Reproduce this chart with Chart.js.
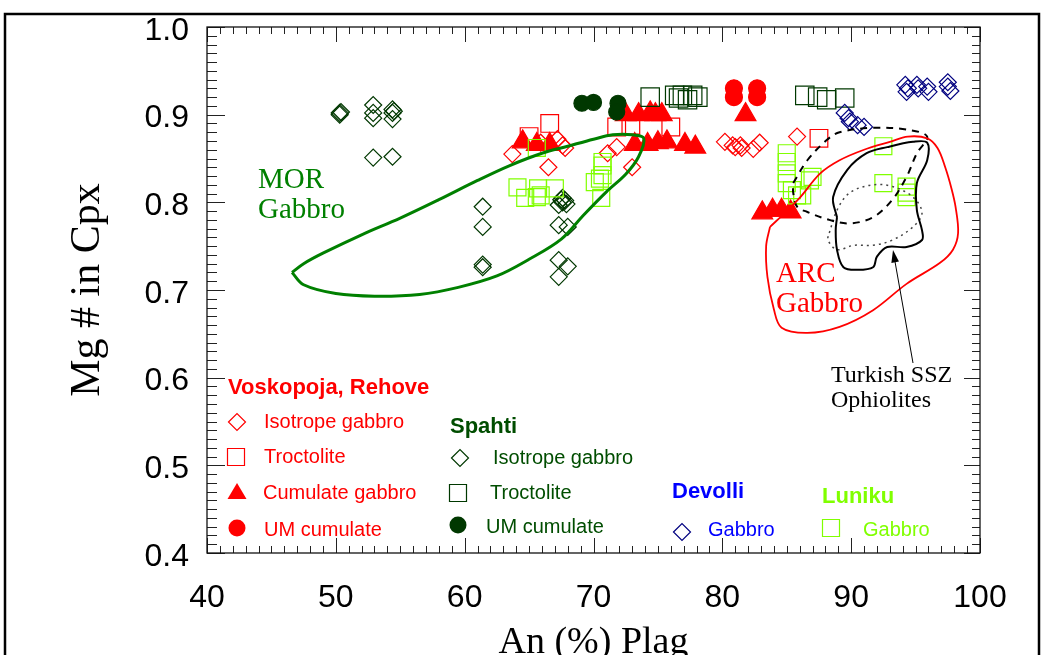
<!DOCTYPE html>
<html>
<head>
<meta charset="utf-8">
<script src="https://cdn.jsdelivr.net/npm/chart.js@4.4.1/dist/chart.umd.min.js"></script>
<style>
  body { margin: 0; background: #fff; }
</style>
</head>
<body>
<canvas id="myChart" width="1041" height="655"></canvas>
<script>
// ---- Voskopoja, Rehove ----
const vrIsoX = [63.7, 65.9, 66.5, 67.2, 67.6, 67.8, 71.1, 71.8, 73.0, 80.2, 80.8, 81.0, 81.4, 81.5, 82.4, 82.9, 85.8];
const vrIsoY = [0.855, 0.868, 0.840, 0.872, 0.865, 0.862, 0.856, 0.863, 0.840, 0.869, 0.865, 0.863, 0.865, 0.862, 0.861, 0.868, 0.875];
const vrTroX = [65.0, 66.6, 71.8, 72.9, 76.0, 87.5];
const vrTroY = [0.875, 0.890, 0.886, 0.888, 0.886, 0.873];
const vrCumX = [64.5, 65.6, 66.6, 72.5, 73.5, 74.4, 74.8, 75.3, 73.2, 74.2, 75.0, 75.7, 77.1, 77.9, 81.8, 83.1, 83.9, 84.6, 85.3];
const vrCumY = [0.869, 0.866, 0.866, 0.900, 0.900, 0.902, 0.900, 0.900, 0.866, 0.866, 0.868, 0.869, 0.866, 0.863, 0.900, 0.788, 0.791, 0.791, 0.789];
const vrUmX = [80.9, 80.9, 82.7, 82.7];
const vrUmY = [0.930, 0.920, 0.930, 0.920];

// ---- Spahti ----
const spIsoX = [50.3, 50.3, 50.4, 52.9, 52.9, 52.9, 54.4, 54.5, 54.4, 54.4, 52.9, 54.4, 61.4, 61.4, 61.4, 61.4, 67.3, 67.6, 67.8, 67.5, 67.9, 67.6, 67.3, 68.0, 67.3, 68.0, 67.3];
const spIsoY = [0.902, 0.900, 0.903, 0.911, 0.902, 0.896, 0.906, 0.904, 0.902, 0.895, 0.851, 0.852, 0.795, 0.772, 0.729, 0.726, 0.797, 0.800, 0.802, 0.803, 0.798, 0.805, 0.774, 0.772, 0.734, 0.727, 0.715];
const spTroX = [74.4, 76.3, 76.6, 76.9, 77.3, 77.7, 78.1, 86.4, 87.4, 88.1, 89.5];
const spTroY = [0.920, 0.922, 0.919, 0.922, 0.917, 0.922, 0.920, 0.922, 0.920, 0.917, 0.919];
const spUmX = [69.1, 70.0, 71.9, 71.8];
const spUmY = [0.913, 0.914, 0.913, 0.903];

// ---- Devolli / Luniku ----
const devX = [94.2, 94.4, 94.3, 95.1, 95.2, 95.9, 96.0, 97.5, 97.5, 97.7, 89.5, 89.8, 89.9, 90.5, 91.0];
const devY = [0.934, 0.930, 0.926, 0.934, 0.930, 0.932, 0.926, 0.937, 0.932, 0.927, 0.902, 0.896, 0.892, 0.888, 0.886];
const lunX = [64.1, 64.7, 65.7, 65.9, 65.6, 67.0, 65.6, 70.1, 70.7, 70.7, 70.7, 70.5, 70.6, 85.0, 85.0, 85.0, 85.0, 85.4, 85.8, 86.2, 87.0, 86.8, 92.5, 92.5, 94.3, 94.3, 94.3];
const lunY = [0.817, 0.805, 0.816, 0.808, 0.806, 0.816, 0.862, 0.823, 0.831, 0.842, 0.846, 0.827, 0.805, 0.856, 0.846, 0.833, 0.822, 0.814, 0.808, 0.808, 0.829, 0.825, 0.864, 0.822, 0.818, 0.811, 0.806];

// ---- field outlines ----
const morX = [46.6, 47.5, 49.0, 52.0, 55.0, 58.0, 61.0, 63.5, 66.0, 68.0, 70.0, 71.5, 73.0, 73.9, 73.5, 72.5, 71.0, 69.2, 67.5, 65.0, 62.5, 59.5, 56.5, 53.0, 50.0, 47.5, 46.6];
const morY = [0.720, 0.730, 0.742, 0.763, 0.782, 0.803, 0.825, 0.842, 0.856, 0.864, 0.872, 0.877, 0.877, 0.873, 0.852, 0.832, 0.812, 0.785, 0.758, 0.735, 0.716, 0.703, 0.695, 0.693, 0.696, 0.706, 0.720];
const arcX = [83.7, 83.4, 83.5, 84.0, 84.6, 86.6, 89.1, 91.7, 94.3, 96.9, 97.9, 98.3, 98.1, 97.8, 97.3, 96.7, 95.9, 94.4, 93.0, 91.0, 89.1, 87.6, 86.0, 85.0, 83.7];
const arcY = [0.772, 0.750, 0.715, 0.678, 0.657, 0.651, 0.658, 0.677, 0.707, 0.731, 0.746, 0.765, 0.795, 0.815, 0.840, 0.862, 0.873, 0.875, 0.869, 0.860, 0.848, 0.833, 0.805, 0.790, 0.772];
const ssz1X = [88.9, 88.6, 89.7, 91.2, 92.8, 94.8, 95.9, 95.9, 95.1, 95.1, 95.5, 95.5, 94.3, 92.8, 92.0, 91.7, 90.5, 89.4, 88.9, 88.8, 88.9];
const ssz1Y = [0.783, 0.806, 0.837, 0.856, 0.863, 0.869, 0.868, 0.848, 0.822, 0.791, 0.768, 0.757, 0.749, 0.749, 0.738, 0.726, 0.723, 0.726, 0.746, 0.768, 0.783];
const ssz2X = [85.5, 86.6, 88.1, 89.1, 91.7, 94.3, 95.9, 95.1, 94.3, 93.2, 91.7, 89.9, 88.3, 86.6, 85.8, 85.5, 85.5];
const ssz2Y = [0.822, 0.848, 0.871, 0.880, 0.885, 0.883, 0.875, 0.856, 0.829, 0.803, 0.783, 0.776, 0.780, 0.789, 0.795, 0.811, 0.822];
const ssz3X = [88.3, 88.9, 89.9, 91.7, 93.2, 94.8, 95.5, 94.8, 93.2, 91.7, 90.2, 88.9, 88.2, 88.3];
const ssz3Y = [0.765, 0.791, 0.811, 0.820, 0.818, 0.806, 0.788, 0.772, 0.757, 0.751, 0.751, 0.746, 0.757, 0.765];

const RED = '#ff0000', DKGREEN = '#003800', NAVY = '#000080', LIME = '#80ff00';
const SANS = '"Liberation Sans", Arial, sans-serif';
const SERIF = '"Liberation Serif", "Times New Roman", serif';

function pts(xs, ys) {
  return xs.map((v, i) => ({ x: v, y: ys[i] }));
}
function marks(label, xs, ys, style, r, color, filled) {
  return {
    label, data: pts(xs, ys), pointStyle: style, pointRadius: r, pointHoverRadius: r,
    borderColor: color, backgroundColor: filled ? color : 'rgba(0,0,0,0)',
    pointBorderWidth: 1.2, showLine: false
  };
}
function curve(label, xs, ys, color, w, dash) {
  return {
    label, data: pts(xs, ys), showLine: true, borderColor: color, borderWidth: w,
    borderDash: dash || [], pointRadius: 0, fill: false, tension: 0.35
  };
}

// legend box + text annotations, inward ticks, outer frame
function drawMark(ctx, style, x, y, color, filled) {
  ctx.save();
  ctx.strokeStyle = color; ctx.fillStyle = color; ctx.lineWidth = 1.2;
  ctx.beginPath();
  if (style === 'diamond') {
    ctx.moveTo(x - 8.5, y); ctx.lineTo(x, y - 8.5); ctx.lineTo(x + 8.5, y); ctx.lineTo(x, y + 8.5); ctx.closePath();
  } else if (style === 'square') {
    ctx.rect(x - 8.5, y - 8.5, 17, 17);
  } else if (style === 'triangle') {
    ctx.moveTo(x, y - 9); ctx.lineTo(x + 9.5, y + 7); ctx.lineTo(x - 9.5, y + 7); ctx.closePath();
  } else {
    ctx.arc(x, y, 8.5, 0, Math.PI * 2);
  }
  if (filled) ctx.fill(); else ctx.stroke();
  ctx.restore();
}

const extras = {
  id: 'extras',
  afterDatasetsDraw(chart) {
    const { ctx, chartArea: a, scales: { x, y } } = chart;
    ctx.save();
    // ticks pointing inward
    ctx.strokeStyle = '#222';
    ctx.lineWidth = 1;
    ctx.beginPath();
    for (let i = 40; i <= 100; i++) {
      const px = Math.round(x.getPixelForValue(i)) + 0.5;
      const len = i % 10 === 0 ? 15 : 7;
      ctx.moveTo(px, a.bottom); ctx.lineTo(px, a.bottom - len);
      ctx.moveTo(px, a.top); ctx.lineTo(px, a.top + len);
    }
    for (let j = 40; j <= 100; j++) {
      const py = Math.round(y.getPixelForValue(j / 100)) + 0.5;
      const major = j % 10 === 0;
      ctx.moveTo(a.left, py); ctx.lineTo(a.left + (major ? 18 : 10), py);
      ctx.moveTo(a.right, py); ctx.lineTo(a.right - (major ? 16 : 8), py);
    }
    ctx.stroke();
    ctx.lineWidth = 1.3;
    ctx.strokeStyle = '#111';
    ctx.strokeRect(a.left, a.top, a.right - a.left, a.bottom - a.top);

    // outer picture frame
    ctx.strokeStyle = '#000';
    ctx.lineWidth = 2.5;
    ctx.beginPath();
    ctx.moveTo(5, 660); ctx.lineTo(5, 14); ctx.lineTo(1039, 14); ctx.lineTo(1039, 660);
    ctx.stroke();

    // field labels
    ctx.textBaseline = 'alphabetic';
    ctx.textAlign = 'left';
    ctx.font = '29px ' + SERIF;
    ctx.fillStyle = '#008000';
    ctx.fillText('MOR', 258, 188);
    ctx.fillText('Gabbro', 258, 218);
    ctx.fillStyle = RED;
    ctx.fillText('ARC', 776, 282);
    ctx.fillText('Gabbro', 776, 312);
    ctx.fillStyle = '#000';
    ctx.font = '24px ' + SERIF;
    ctx.fillText('Turkish SSZ', 831, 382);
    ctx.fillText('Ophiolites', 831, 407);

    // arrow
    ctx.strokeStyle = '#000';
    ctx.lineWidth = 1;
    ctx.beginPath();
    ctx.moveTo(913, 363); ctx.lineTo(894, 256);
    ctx.stroke();
    const ang = Math.atan2(250 - 363, 893 - 913);
    ctx.beginPath();
    ctx.moveTo(893, 250);
    ctx.lineTo(893 - 13 * Math.cos(ang - 0.3), 250 - 13 * Math.sin(ang - 0.3));
    ctx.lineTo(893 - 13 * Math.cos(ang + 0.3), 250 - 13 * Math.sin(ang + 0.3));
    ctx.closePath();
    ctx.fillStyle = '#000';
    ctx.fill();

    // legend
    ctx.textBaseline = 'middle';
    ctx.font = 'bold 22px ' + SANS;
    ctx.fillStyle = RED; ctx.fillText('Voskopoja, Rehove', 228, 388);
    ctx.fillStyle = '#004d00'; ctx.fillText('Spahti', 450, 427);
    ctx.fillStyle = '#0000ff'; ctx.fillText('Devolli', 672, 492);
    ctx.fillStyle = LIME; ctx.fillText('Luniku', 822, 497);

    ctx.font = '20px ' + SANS;
    ctx.fillStyle = RED;
    ctx.fillText('Isotrope gabbro', 264, 422);
    ctx.fillText('Troctolite', 264, 457);
    ctx.fillText('Cumulate gabbro', 263, 493);
    ctx.fillText('UM cumulate', 264, 530);
    ctx.fillStyle = '#004d00';
    ctx.fillText('Isotrope gabbro', 493, 458);
    ctx.fillText('Troctolite', 490, 493);
    ctx.fillText('UM cumulate', 486, 527);
    ctx.fillStyle = '#0000ff';
    ctx.fillText('Gabbro', 708, 530);
    ctx.fillStyle = LIME;
    ctx.fillText('Gabbro', 863, 530);

    drawMark(ctx, 'diamond', 237, 422, RED, false);
    drawMark(ctx, 'square', 236, 457, RED, false);
    drawMark(ctx, 'triangle', 237, 492, RED, true);
    drawMark(ctx, 'circle', 237, 528, RED, true);
    drawMark(ctx, 'diamond', 460, 458, DKGREEN, false);
    drawMark(ctx, 'square', 458, 493, DKGREEN, false);
    drawMark(ctx, 'circle', 458, 525, DKGREEN, true);
    drawMark(ctx, 'diamond', 682, 532, NAVY, false);
    drawMark(ctx, 'square', 831, 528, LIME, false);
    ctx.restore();
  }
};

const ctx = document.getElementById('myChart');

new Chart(ctx, {
  type: 'scatter',
  data: {
    datasets: [
      curve('MOR', morX, morY, '#008000', 3),
      curve('ARC', arcX, arcY, RED, 1.8),
      curve('SSZ outline', ssz1X, ssz1Y, '#000', 2),
      curve('SSZ dashed', ssz2X, ssz2Y, '#000', 2, [7, 6]),
      curve('SSZ dotted', ssz3X, ssz3Y, '#444', 1.5, [2, 4]),
      marks('Luniku Gabbro', lunX, lunY, 'rect', 12, LIME, false),
      marks('Devolli Gabbro', devX, devY, 'rectRot', 8.5, NAVY, false),
      marks('Spahti Isotrope gabbro', spIsoX, spIsoY, 'rectRot', 8.5, DKGREEN, false),
      marks('Spahti Troctolite', spTroX, spTroY, 'rect', 13, DKGREEN, false),
      marks('Spahti UM cumulate', spUmX, spUmY, 'circle', 8, DKGREEN, true),
      marks('VR Isotrope gabbro', vrIsoX, vrIsoY, 'rectRot', 8.5, RED, false),
      marks('VR Troctolite', vrTroX, vrTroY, 'rect', 12.5, RED, false),
      marks('VR Cumulate gabbro', vrCumX, vrCumY, 'triangle', 12, RED, true),
      marks('VR UM cumulate', vrUmX, vrUmY, 'circle', 8.5, RED, true)
    ]
  },
  options: {
    responsive: false,
    animation: false,
    events: [],
    layout: { padding: { left: 0, right: 61, top: 27, bottom: 0 } },
    plugins: { legend: { display: false }, tooltip: { enabled: false } },
    scales: {
      x: {
        type: 'linear', min: 40, max: 100,
        afterFit(s) { s.height = 102; s.paddingLeft = 0; s.paddingRight = 0; },
        grid: { display: false, drawTicks: false },
        border: { display: false },
        ticks: { stepSize: 10, font: { family: SANS, size: 32 }, color: '#000', padding: 26, maxRotation: 0 },
        title: { display: true, text: 'An (%) Plag', color: '#000',
          font: { family: SERIF, size: 38, lineHeight: 1 }, padding: { top: 0, bottom: -7 } }
      },
      y: {
        type: 'linear', min: 0.4, max: 1.0,
        afterFit(s) { s.width = 207; s.paddingTop = 0; s.paddingBottom = 0; },
        grid: { display: false, drawTicks: false },
        border: { display: false },
        ticks: { stepSize: 0.1, font: { family: SANS, size: 32 }, color: '#000', padding: 18, labelOffset: 4,
          callback: (v) => v.toFixed(1) },
        title: { display: true, text: 'Mg # in Cpx', color: '#000',
          font: { family: SERIF, size: 42, lineHeight: 1 }, padding: { top: 67, bottom: 0 } }
      }
    }
  },
  plugins: [extras]
});
</script>
</body>
</html>
